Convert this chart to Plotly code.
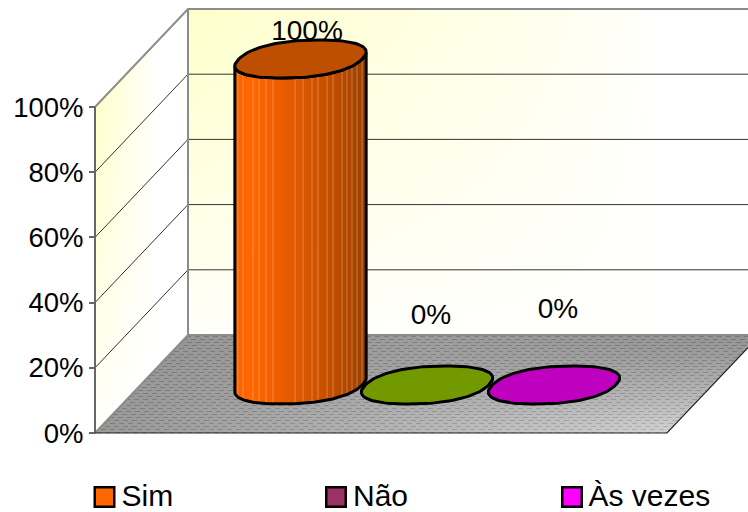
import numpy as np
import plotly.graph_objects as go

# Survey answers
categories = ["Sim", "Não", "Às vezes"]
values = [100, 0, 0]
value_labels = ["100%", "0%", "0%"]
tick_values = [0, 20, 40, 60, 80, 100]
tick_labels = ["0%", "20%", "40%", "60%", "80%", "100%"]
top_colors = ["#BF4F00", "#739900", "#BF00BF"]
legend_colors = ["#FF6600", "#993366", "#FF00FF"]

W, H = 748, 512

# Oblique box geometry, in pixels
FLOOR_Y = 433.0
PX_PER_PCT = 3.26
LEFT, RIGHT = 95.0, 667.0
DEPTH_X, DEPTH_Y = 93.0, 98.0
BACK_X = LEFT + DEPTH_X
BACK_Y = FLOOR_Y - DEPTH_Y
DEPTH_PCT = DEPTH_Y / PX_PER_PCT
TOP_PCT = 100 + DEPTH_PCT


def pct(y_px):
    """Pixel row to percent on the value axis."""
    return (FLOOR_Y - y_px) / PX_PER_PCT


# Walls and floor are painted into one RGBA backdrop
xx, yy = np.meshgrid(np.arange(W) + 0.5, np.arange(H) + 0.5)
rgba = np.zeros((H, W, 4), dtype=float)
rgba[..., :3] = 255
rgba[..., 3] = 255


def wall_colour(fade_x, fade_y):
    yellow = np.clip(1 - fade_x, 0, 1) ** 0.8 * np.clip(1 - fade_y, 0.03, 1) ** 0.8
    return 255 - 51 * yellow


back = (xx >= BACK_X) & (yy >= BACK_Y - 325) & (yy <= BACK_Y)
blue_back = wall_colour((xx - BACK_X) / 470, (yy - 10) / 335)
rgba[..., 2] = np.where(back, blue_back, rgba[..., 2])

edge_y = FLOOR_Y - (xx - LEFT) * DEPTH_Y / DEPTH_X
side = (xx >= LEFT) & (xx < BACK_X) & (yy >= edge_y - 326) & (yy <= edge_y)
blue_side = wall_colour((xx - LEFT) / 60, (yy - edge_y + 326) / 335)
rgba[..., 2] = np.where(side, blue_side, rgba[..., 2])

floor = (yy >= BACK_Y) & (yy <= FLOOR_Y) & (xx >= LEFT + (FLOOR_Y - yy) * DEPTH_X / DEPTH_Y) & (
    xx <= RIGHT + (FLOOR_Y - yy) * DEPTH_X / DEPTH_Y
)
u = (xx - LEFT) / 653
v = (yy - BACK_Y) / DEPTH_Y
shade = 141 + 4 * v + 66 * u * v ** 1.4 + 16 * (1 - v) * (0.5 - np.abs(u - 0.5))
row = (yy // 3).astype(int)
dash = ((xx + row * 3 + yy * 0.4) % 9) < 5
band = (yy % 3) < 1.5
texture = np.where(dash & band, -22.0, 8.0)
grey = np.clip(shade + texture, 0, 255)
for c in range(3):
    rgba[..., c] = np.where(floor, grey, rgba[..., c])

fig = go.Figure()
fig.add_trace(go.Image(z=rgba.astype(np.uint8), colormodel="rgba256", x0=0.5, y0=0.5, dx=1, dy=1,
                       xaxis="x", yaxis="y", hoverinfo="skip"))


def line(xs, ys, color, width):
    fig.add_trace(go.Scatter(x=xs, y=ys, mode="lines", yaxis="y2", hoverinfo="skip",
                             line=dict(color=color, width=width), showlegend=False))


# Gridlines run along the side wall and then across the back wall
for t in tick_values[1:-1]:
    line([LEFT, BACK_X, W], [t, t + DEPTH_PCT, t + DEPTH_PCT], "#333333", 1)

# Box edges
EDGE = "#8C8C8C"
line([LEFT, BACK_X, W], [100, TOP_PCT, TOP_PCT], EDGE, 2)
line([BACK_X, BACK_X], [DEPTH_PCT, TOP_PCT], EDGE, 2)
line([LEFT, BACK_X, W], [0, DEPTH_PCT, DEPTH_PCT], EDGE, 2)
line([LEFT, LEFT], [0, 100], "#666666", 2)
line([LEFT, RIGHT, W], [0, 0, (W - RIGHT) * DEPTH_PCT / DEPTH_X], "#222222", 1.2)

# Cylinders: a circle on the floor, sheared by the projection
CENTER_X = [300.5, 427.0, 554.0]
BASE_PCT = pct(385.0)
AX, BX, BY = 61.7, 18.7, 19.0
ROUNDNESS = 0.88
LABEL_POS = [(307, 33), (431, 317), (558, 311)]
STROKE = 3

# Data labels sit behind the cylinder tops
fig.add_trace(go.Scatter(x=[p[0] for p in LABEL_POS], y=[pct(p[1]) for p in LABEL_POS],
                         mode="text", text=value_labels, yaxis="y2", hoverinfo="skip",
                         textposition="middle center", showlegend=False,
                         textfont=dict(family="Liberation Sans", size=28, color="#000000")))

theta = np.linspace(0, 2 * np.pi, 121)
SHEEN_X = [238, 243, 253, 259, 266, 273, 295, 303, 312, 318, 327, 333, 342, 347, 352, 357, 362]


def rim(cx, base, t):
    c = np.sign(np.cos(t)) * np.abs(np.cos(t)) ** ROUNDNESS
    s = np.sign(np.sin(t)) * np.abs(np.sin(t)) ** ROUNDNESS
    return (cx + AX * c + BX * s, base + BY * s / PX_PER_PCT)


for cx, val, top in zip(CENTER_X, values, top_colors):
    y_top = BASE_PCT + val
    if val > 0:
        # Front half of the wall, from the left extreme around to the right extreme
        t0 = np.arctan2(BX, AX)
        t_front = np.linspace(np.pi + t0, 2 * np.pi + t0, 90)
        bx_, by_ = rim(cx, BASE_PCT, t_front)
        tx_, ty_ = rim(cx, y_top, t_front[::-1])
        wall_x = np.concatenate([bx_, tx_, bx_[:1]])
        wall_y = np.concatenate([by_, ty_, by_[:1]])
        fig.add_trace(go.Scatter(
            x=wall_x, y=wall_y, yaxis="y2",
            mode="none", fill="toself", hoverinfo="skip", showlegend=False,
            fillgradient=dict(type="horizontal", start=cx - 66.5, stop=cx + 66.5,
                              colorscale=[[0, "#F46200"], [0.12, "#FF6600"], [0.25, "#F56200"],
                                          [0.5, "#DC5800"], [0.75, "#BF4D00"], [1, "#9A3E00"]]),
        ))
        # Thin facet highlights on the wall
        sx, sy = [], []
        for x in SHEEN_X:
            i = int(np.argmin(np.abs(bx_ - x)))
            j = int(np.argmin(np.abs(tx_ - x)))
            sx += [x, x, None]
            sy += [by_[i], ty_[j], None]
        fig.add_trace(go.Scatter(x=sx, y=sy, mode="lines", yaxis="y2", hoverinfo="skip", showlegend=False,
                                 line=dict(color="rgba(255,205,150,0.40)", width=1)))
        line(wall_x.tolist(), wall_y.tolist(), "#000000", STROKE)
    ex, ey = rim(cx, y_top, theta)
    fig.add_trace(go.Scatter(x=ex, y=ey, mode="lines", fill="toself", fillcolor=top, yaxis="y2",
                             hoverinfo="skip", showlegend=False,
                             line=dict(color="#000000", width=STROKE)))

# Legend row
SWATCH_X = [104.5, 336, 572]
LEGEND_TEXT_X = [121.5, 353, 588.5]
LEGEND_Y = 497
fig.add_trace(go.Scatter(x=SWATCH_X, y=[LEGEND_Y] * 3, mode="markers", xaxis="x", yaxis="y",
                         hoverinfo="skip", showlegend=False,
                         marker=dict(symbol="square", size=19.5, color=legend_colors,
                                     line=dict(color="#000000", width=2.5))))
fig.add_trace(go.Scatter(x=LEGEND_TEXT_X, y=[LEGEND_Y + 1] * 3, mode="text", text=categories, xaxis="x", yaxis="y",
                         textposition="middle right", hoverinfo="skip", showlegend=False,
                         textfont=dict(family="Liberation Sans", size=30, color="#000000")))

fig.update_layout(
    width=W, height=H, margin=dict(l=0, r=0, t=0, b=0), paper_bgcolor="#FFFFFF", plot_bgcolor="#FFFFFF",
    showlegend=False,
    xaxis=dict(range=[0, W], visible=False, fixedrange=True, constrain="domain"),
    yaxis=dict(range=[H, 0], visible=False, fixedrange=True),
    yaxis2=dict(range=[pct(H), pct(0)], overlaying="y", anchor="free", position=LEFT / W, side="left",
                tickmode="array", tickvals=tick_values, ticktext=tick_labels, showgrid=False, zeroline=False,
                showline=False, ticks="outside", ticklen=6, tickcolor="#666666", tickwidth=1.5,
                ticklabelstandoff=0,
                tickfont=dict(family="Liberation Sans", size=27.5, color="#000000")),
)

fig.write_html("out.html", config={"displayModeBar": False})
